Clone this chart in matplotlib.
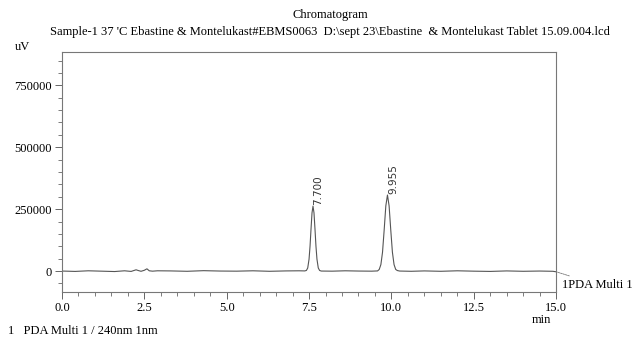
import matplotlib
matplotlib.use("Agg")
import matplotlib.pyplot as plt
from matplotlib.ticker import MultipleLocator

plt.rcParams['font.family'] = ['Liberation Serif', 'DejaVu Serif']

# trace points (min, uV), as drawn
times = [0.0, 0.4, 0.8, 1.2, 1.6, 1.9, 2.1, 2.25, 2.32, 2.4, 2.5, 2.58, 2.65, 2.75, 2.9,
         3.3, 3.8, 4.3, 4.8, 5.3, 5.8, 6.3, 6.8, 7.2, 7.37,
         7.42, 7.46, 7.50, 7.53, 7.56, 7.59, 7.62, 7.65, 7.68, 7.71, 7.74, 7.78, 7.82, 7.87,
         8.2, 8.6, 9.0, 9.4, 9.58,
         9.63, 9.68, 9.73, 9.78, 9.83, 9.88, 9.93, 9.98, 10.03, 10.08, 10.13, 10.18, 10.25,
         10.6, 11.0, 11.5, 12.0, 12.5, 13.0, 13.5, 14.0, 14.5, 14.9, 15.0]
signal = [0, -1500, 1000, -500, -2000, 1000, -1500, 5000, 2000, -1000, 3000, 9000, 1000, -500, 1000,
          500, -1000, 1500, 0, -500, 1000, -1000, 500, 1000, 500,
          2400, 12500, 48000, 100000, 170000, 235000, 262000, 235000, 170000, 100000, 48000, 12500, 2400, 0,
          -500, 1000, 0, -500, 500,
          6500, 26000, 76000, 166000, 263000, 307000, 263000, 166000, 76000, 26000, 6500, 2000, 0,
          -1000, 500, -1000, 1000, -500, -1500, 500, -1000, 0, -1000, -3000]

# apex positions as drawn and the retention times printed on them
peak_x = [7.62, 9.88]
peak_h = [262000, 307000]
peak_txt = ["7.700", "9.955"]

fig = plt.figure(figsize=(6.32, 3.37), dpi=100)
ax = fig.add_axes([0.098, 0.134, 0.782, 0.712])

ax.plot(times, signal, color='#555555', lw=0.8)

for px, h, s in zip(peak_x, peak_h, peak_txt):
    ax.text(px + 0.17, h + 6000, s, rotation=90, fontsize=7.5, ha='center', va='bottom',
            family=['DejaVu Sans'], color='#333333')

ax.set_xlim(0, 15)
ax.set_ylim(-84000, 885000)
ax.xaxis.set_minor_locator(MultipleLocator(0.5))
ax.yaxis.set_minor_locator(MultipleLocator(50000))
ax.set_xticks([0, 2.5, 5, 7.5, 10, 12.5, 15])
ax.set_xticklabels(["0.0", "2.5", "5.0", "7.5", "10.0", "12.5", "15.0"])
ax.set_yticks([0, 250000, 500000, 750000])
ax.set_yticklabels(["0", "250000", "500000", "750000"])
ax.tick_params(which='major', length=5, width=0.7, color='#666666', labelsize=9, pad=2)
ax.tick_params(which='minor', length=3, width=0.6, color='#666666')
for sp in ax.spines.values():
    sp.set_color('#777777')
    sp.set_linewidth(0.8)

# channel tag at end of trace
ax.annotate("1PDA Multi 1", xy=(15.0, signal[-1]), xytext=(15.18, -55000),
            fontsize=9, ha='left', va='center', annotation_clip=False,
            arrowprops=dict(arrowstyle='-', color='#777777', lw=0.6, ls=(0, (2, 1)),
                            shrinkA=0, shrinkB=0))

fig.text(0.522, 0.955, "Chromatogram", ha='center', va='center', fontsize=9)
fig.text(0.522, 0.905, "Sample-1 37 'C Ebastine & Montelukast#EBMS0063  D:\\sept 23\\Ebastine  & Montelukast Tablet 15.09.004.lcd",
         ha='center', va='center', fontsize=9)
fig.text(0.035, 0.862, "uV", ha='center', va='center', fontsize=9)
fig.text(0.856, 0.05, "min", ha='center', va='center', fontsize=9)
fig.text(0.013, 0.018, "1   PDA Multi 1 / 240nm 1nm", ha='left', va='center', fontsize=9)

fig.savefig("out.png", dpi=100, facecolor='white')
